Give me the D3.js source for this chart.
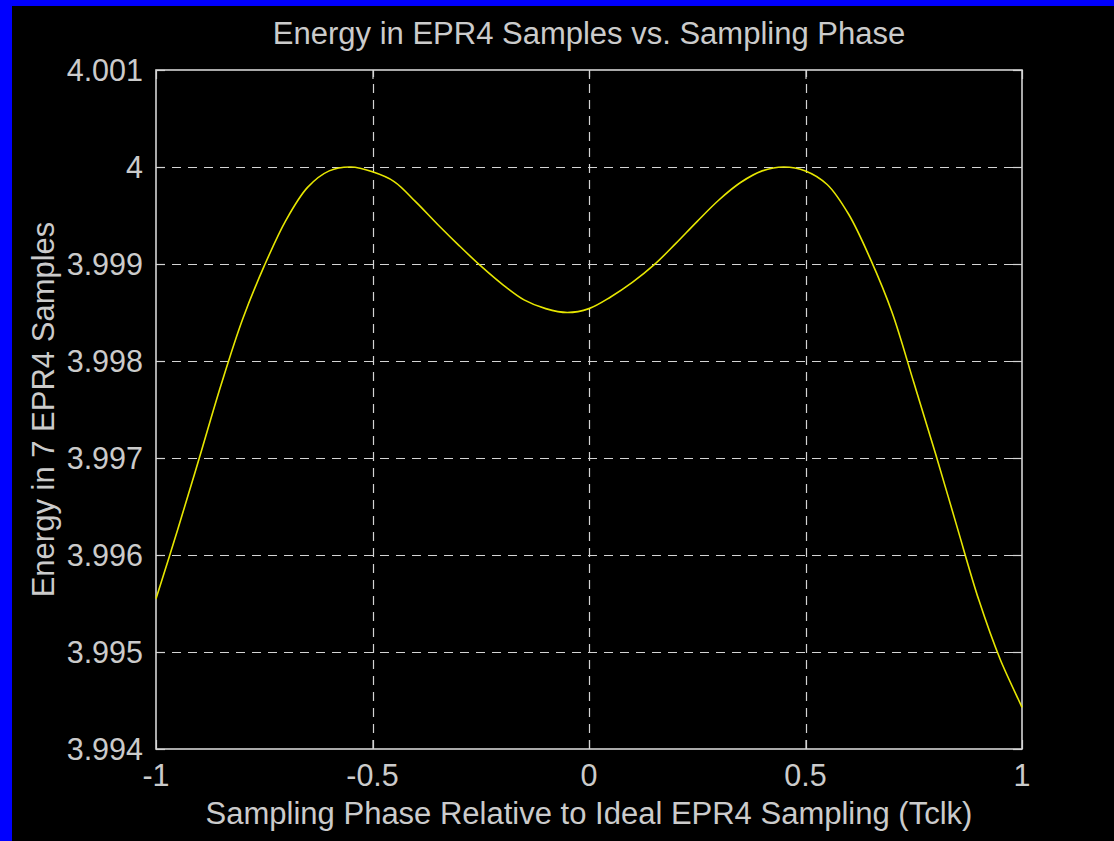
<!DOCTYPE html>
<html>
<head>
<meta charset="utf-8">
<script src="https://cdn.jsdelivr.net/npm/d3@7"></script>
<style>
  html, body { margin: 0; padding: 0; background: #000; }
  svg { display: block; }
</style>
</head>
<body>
<svg id="chart" width="1114" height="841"></svg>
<script>
// Sampling phase (in Tclk) and the energy in 7 EPR4 samples at that phase
const phase = [
  -1.00, -0.95, -0.90, -0.85, -0.80, -0.75, -0.70, -0.65, -0.60, -0.55,
  -0.50, -0.45, -0.40, -0.35, -0.30, -0.25, -0.20, -0.15, -0.10, -0.05,
   0.00,  0.05,  0.10,  0.15,  0.20,  0.25,  0.30,  0.35,  0.40,  0.45,
   0.50,  0.55,  0.60,  0.65,  0.70,  0.75,  0.80,  0.85,  0.90,  0.95,
   1.00
];
const energy = [
  3.99555, 3.99626, 3.99700, 3.99775, 3.99843, 3.99898, 3.99945, 3.99979, 3.99996, 4.00000,
  3.99995, 3.99985, 3.99964, 3.99941, 3.99919, 3.99898, 3.99879, 3.99863, 3.99854, 3.99850,
  3.99854, 3.99866, 3.99881, 3.99899, 3.99921, 3.99944, 3.99966, 3.99984, 3.99996, 4.00000,
  3.99996, 3.99982, 3.99951, 3.99905, 3.99850, 3.99778, 3.99705, 3.99629, 3.99554, 3.99492,
  3.99443
];

const xTicks = [-1, -0.5, 0, 0.5, 1];
const xTickLabels = ["-1", "-0.5", "0", "0.5", "1"];
const yTicks = [3.994, 3.995, 3.996, 3.997, 3.998, 3.999, 4.000, 4.001];
const yTickLabels = ["3.994", "3.995", "3.996", "3.997", "3.998", "3.999", "4", "4.001"];

const titleText = "Energy in EPR4 Samples vs. Sampling Phase";
const xLabelText = "Sampling Phase Relative to Ideal EPR4 Sampling (Tclk)";
const yLabelText = "Energy in 7 EPR4 Samples";

const W = 1114, H = 841;
const plot = { left: 156, right: 1022, top: 70, bottom: 749 };
const fg = "#d4d4d4";
const textFg = "#cbcbcb";
const font = "'Liberation Sans', Arial, Helvetica, sans-serif";

const svg = d3.select("#chart");

// window frame
svg.append("rect").attr("x", 0).attr("y", 0).attr("width", W).attr("height", H).attr("fill", "#0000ff");
svg.append("rect").attr("x", 12).attr("y", 6).attr("width", W - 12).attr("height", H - 6).attr("fill", "#000");

const x = d3.scaleLinear().domain([-1, 1]).range([plot.left, plot.right]);
const y = d3.scaleLinear().domain([3.994, 4.001]).range([plot.bottom, plot.top]);

// dashed grid
const grid = svg.append("g")
  .attr("stroke", fg).attr("stroke-width", 1.2).attr("stroke-dasharray", "9,7").attr("fill", "none");
grid.selectAll("line.gx").data(xTicks.slice(1, -1)).join("line")
  .attr("x1", d => Math.round(x(d)) + 0.5).attr("x2", d => Math.round(x(d)) + 0.5)
  .attr("y1", plot.bottom).attr("y2", plot.top);
grid.selectAll("line.gy").data(yTicks.slice(1, -1)).join("line")
  .attr("y1", d => Math.round(y(d)) + 0.5).attr("y2", d => Math.round(y(d)) + 0.5)
  .attr("x1", plot.left).attr("x2", plot.right);

// axes, ticks pointing inward and mirrored on the opposite sides
const tickLen = 9;
const axBottom = d3.axisTop(x).tickValues(xTicks).tickFormat(() => "").tickSize(tickLen).tickSizeOuter(0);
const axTop = d3.axisBottom(x).tickValues(xTicks).tickFormat(() => "").tickSize(tickLen).tickSizeOuter(0);
const axLeft = d3.axisRight(y).tickValues(yTicks).tickFormat(() => "").tickSize(tickLen).tickSizeOuter(0);
const axRight = d3.axisLeft(y).tickValues(yTicks).tickFormat(() => "").tickSize(tickLen).tickSizeOuter(0);

function styleAxis(g) {
  g.selectAll("path").remove();
  g.selectAll("line").attr("stroke", fg).attr("stroke-width", 1.2);
}
svg.append("g").attr("transform", `translate(0,${plot.bottom})`).call(axBottom).call(styleAxis);
svg.append("g").attr("transform", `translate(0,${plot.top})`).call(axTop).call(styleAxis);
svg.append("g").attr("transform", `translate(${plot.left},0)`).call(axLeft).call(styleAxis);
svg.append("g").attr("transform", `translate(${plot.right},0)`).call(axRight).call(styleAxis);

// box
svg.append("rect")
  .attr("x", plot.left).attr("y", plot.top)
  .attr("width", plot.right - plot.left).attr("height", plot.bottom - plot.top)
  .attr("fill", "none").attr("stroke", fg).attr("stroke-width", 1.6);

// tick labels
svg.append("g").selectAll("text").data(xTicks).join("text")
  .attr("x", d => x(d)).attr("y", plot.bottom + 37)
  .attr("text-anchor", "middle")
  .attr("font-family", font).attr("font-size", 30.5).attr("fill", textFg)
  .text((d, i) => xTickLabels[i]);
svg.append("g").selectAll("text").data(yTicks).join("text")
  .attr("x", plot.left - 13).attr("y", d => y(d) + 10.5)
  .attr("text-anchor", "end")
  .attr("font-family", font).attr("font-size", 30.5).attr("fill", textFg)
  .text((d, i) => yTickLabels[i]);

// curve
const line = d3.line()
  .x((d, i) => x(phase[i]))
  .y(d => y(d))
  .curve(d3.curveCatmullRom.alpha(0.5));
svg.append("path")
  .datum(energy)
  .attr("d", line)
  .attr("fill", "none")
  .attr("stroke", "#e6e600")
  .attr("stroke-width", 1.6);

// titles
svg.append("text")
  .attr("x", (plot.left + plot.right) / 2).attr("y", 44)
  .attr("text-anchor", "middle")
  .attr("font-family", font).attr("font-size", 31).attr("fill", textFg)
  .text(titleText);
svg.append("text")
  .attr("x", (plot.left + plot.right) / 2).attr("y", 824)
  .attr("text-anchor", "middle")
  .attr("font-family", font).attr("font-size", 31).attr("fill", textFg)
  .text(xLabelText);
svg.append("text")
  .attr("transform", `translate(54,${(plot.top + plot.bottom) / 2}) rotate(-90)`)
  .attr("text-anchor", "middle")
  .attr("font-family", font).attr("font-size", 31).attr("fill", textFg)
  .text(yLabelText);
</script>
</body>
</html>
